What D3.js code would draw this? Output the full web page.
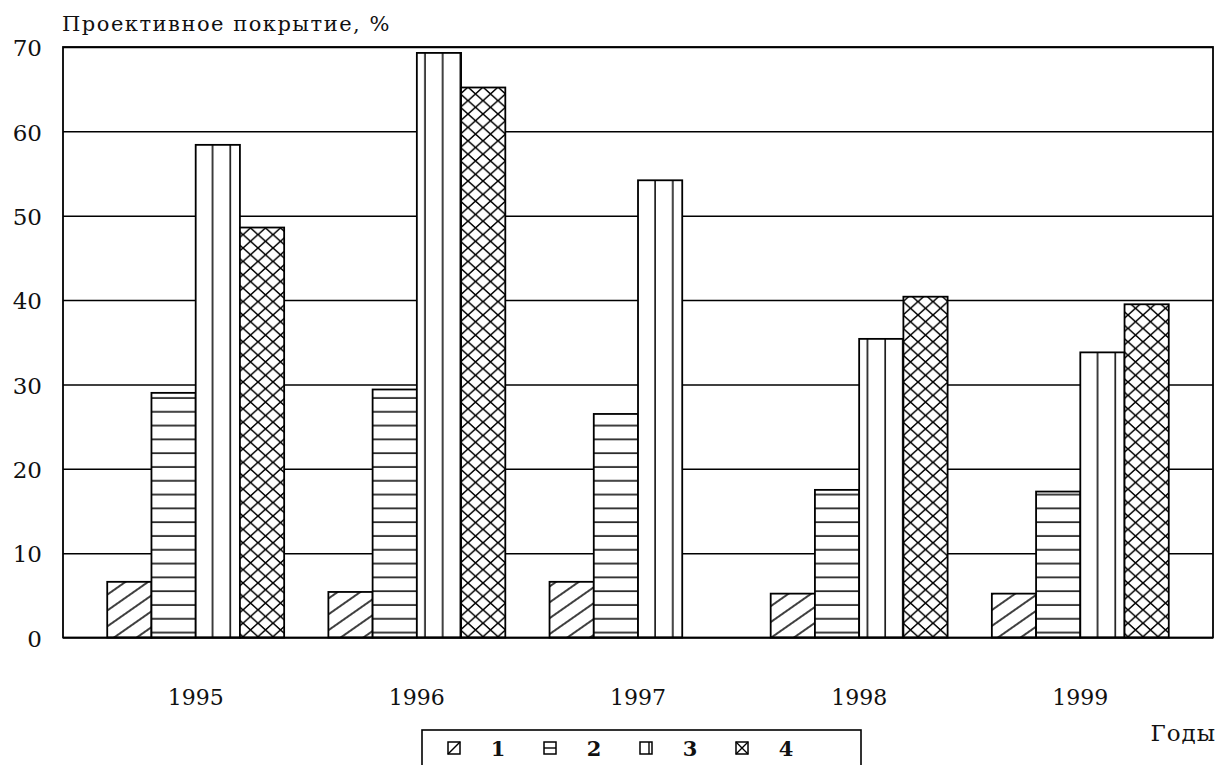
<!DOCTYPE html>
<html>
<head>
<meta charset="utf-8">
<script src="https://cdn.jsdelivr.net/npm/d3@7"></script>
<style>
  body { margin: 0; background: #fff; }
  text { font-family: "DejaVu Serif", serif; fill: #111; }
</style>
</head>
<body>
<script>
// данные (проективное покрытие по годам)
var years = ["1995", "1996", "1997", "1998", "1999"];
var seriesNames = ["1", "2", "3", "4"];
var s1 = [6.6, 5.4, 6.6, 5.2, 5.2];
var s2 = [29.0, 29.4, 26.5, 17.5, 17.3];
var s3 = [58.4, 69.3, 54.2, 35.4, 33.8];
var s4 = [48.6, 65.2, null, 40.4, 39.5];
var yTicks = [0, 10, 20, 30, 40, 50, 60, 70];
var yTitle = "Проективное покрытие, %";
var xTitle = "Годы";

var allSeries = [s1, s2, s3, s4];
var data = [];
years.forEach(function (yr, i) {
    seriesNames.forEach(function (s, j) {
        if (allSeries[j][i] != null) data.push({ year: yr, s: s, value: allSeries[j][i] });
    });
});

var width = 1219;
var height = 765;
var margin = { top: 47, right: 6, bottom: 127.5, left: 63 };
var w = width - margin.left - margin.right;
var h = height - margin.top - margin.bottom;

var svg = d3.select("body").append("svg")
    .attr("width", width)
    .attr("height", height);

// штриховки
var defs = svg.append("defs");
var ink = "#000";

var p1 = defs.append("pattern").attr("id", "pat1")
    .attr("patternUnits", "userSpaceOnUse")
    .attr("width", 13).attr("height", 13)
    .attr("patternTransform", "rotate(-35)");
p1.append("line").attr("x1", 0).attr("x2", 13).attr("y1", 6).attr("y2", 6)
    .attr("stroke", ink).attr("stroke-width", 1.5);

var p2 = defs.append("pattern").attr("id", "pat2")
    .attr("patternUnits", "userSpaceOnUse")
    .attr("width", 20).attr("height", 13.8);
p2.append("line").attr("x1", 0).attr("x2", 20).attr("y1", 6).attr("y2", 6)
    .attr("stroke", ink).attr("stroke-width", 1.5);

var p3 = defs.append("pattern").attr("id", "pat3")
    .attr("patternUnits", "userSpaceOnUse")
    .attr("width", 17.7).attr("height", 20);
p3.append("line").attr("x1", 8).attr("x2", 8).attr("y1", 0).attr("y2", 20)
    .attr("stroke", ink).attr("stroke-width", 1.5);

var p4 = defs.append("pattern").attr("id", "pat4")
    .attr("patternUnits", "userSpaceOnUse")
    .attr("width", 15).attr("height", 13.4);
p4.append("path").attr("d", "M0,0L15,13.4M15,0L0,13.4")
    .attr("stroke", ink).attr("stroke-width", 1.5).attr("fill", "none");

var g = svg.append("g")
    .attr("transform", "translate(" + margin.left + "," + margin.top + ")");

var xScale = d3.scaleBand()
    .domain(years)
    .range([0, w])
    .paddingInner(0.2)
    .paddingOuter(0.2);

var xSub = d3.scaleBand()
    .domain(seriesNames)
    .range([0, xScale.bandwidth()]);

var yScale = d3.scaleLinear()
    .domain([0, 70])
    .range([h, 0]);

// сетка
g.append("g")
    .call(d3.axisLeft(yScale).tickValues(yTicks).tickSize(-w).tickFormat(""))
    .call(function (a) { a.select(".domain").remove(); })
    .selectAll("line")
    .attr("stroke", ink)
    .attr("stroke-width", 1.5);

// столбики
var bars = g.append("g")
    .selectAll("g")
    .data(data)
    .enter()
    .append("g");

bars.append("rect")
    .attr("x", function (d) { return xScale(d.year) + xSub(d.s); })
    .attr("y", function (d) { return yScale(d.value); })
    .attr("width", xSub.bandwidth())
    .attr("height", function (d) { return h - yScale(d.value); })
    .attr("fill", "#fff");

bars.append("rect")
    .attr("x", function (d) { return xScale(d.year) + xSub(d.s); })
    .attr("y", function (d) { return yScale(d.value); })
    .attr("width", xSub.bandwidth())
    .attr("height", function (d) { return h - yScale(d.value); })
    .attr("fill", function (d) { return "url(#pat" + d.s + ")"; })
    .attr("stroke", ink)
    .attr("stroke-width", 1.8);

// рамка
g.append("rect")
    .attr("width", w).attr("height", h)
    .attr("fill", "none")
    .attr("stroke", ink)
    .attr("stroke-width", 1.8);

// подписи оси Y
var yAxis = g.append("g")
    .call(d3.axisLeft(yScale).tickValues(yTicks).tickSize(0).tickPadding(21));
yAxis.select(".domain").remove();
yAxis.selectAll("text")
    .style("font-family", "DejaVu Serif")
    .style("font-size", "23px")
    .attr("dy", "0.38em");

// подписи оси X
var xAxis = g.append("g")
    .attr("transform", "translate(0," + h + ")")
    .call(d3.axisBottom(xScale).tickSize(0).tickPadding(67));
xAxis.select(".domain").remove();
xAxis.selectAll("text")
    .style("font-family", "DejaVu Serif")
    .style("font-size", "22px")
    .attr("dy", "0");

svg.append("text")
    .attr("x", 62)
    .attr("y", 31)
    .style("font-size", "21px")
    .style("letter-spacing", "1.5px")
    .text(yTitle);

svg.append("text")
    .attr("x", 1216)
    .attr("y", 741)
    .attr("text-anchor", "end")
    .style("font-size", "23px")
    .style("letter-spacing", "1px")
    .text(xTitle);

// легенда
var legend = svg.append("g").attr("transform", "translate(422,730)");
legend.append("rect")
    .attr("width", 439).attr("height", 60)
    .attr("fill", "none")
    .attr("stroke", ink)
    .attr("stroke-width", 1.6);

var lx = d3.scalePoint().domain(seriesNames).range([26, 314]);
var items = legend.selectAll(".item")
    .data(seriesNames)
    .enter()
    .append("g")
    .attr("class", "item")
    .attr("transform", function (d) { return "translate(" + lx(d) + ",12)"; });

items.append("rect")
    .attr("width", 12).attr("height", 12)
    .attr("fill", "#fff")
    .attr("stroke", ink)
    .attr("stroke-width", 1.5);

items.append("path")
    .attr("d", function (d) {
        if (d === "1") return "M0,12L12,0";
        if (d === "2") return "M0,6H12";
        if (d === "3") return "M9,0V12";
        return "M0,0L12,12M12,0L0,12";
    })
    .attr("stroke", ink)
    .attr("stroke-width", 1.4)
    .attr("fill", "none");

items.append("text")
    .attr("x", 50)
    .attr("y", 14)
    .attr("text-anchor", "middle")
    .style("font-size", "21px")
    .style("font-weight", "bold")
    .text(function (d) { return d; });
</script>
</body>
</html>
